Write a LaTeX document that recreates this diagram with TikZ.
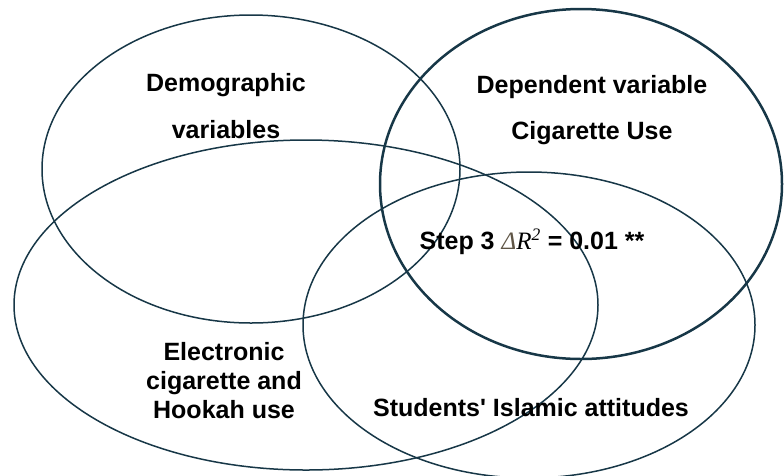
\documentclass[tikz,border=0pt]{standalone}
\usepackage{fontspec}
\setmainfont{Liberation Sans}
\newfontfamily\serifit{Liberation Serif}
\definecolor{ringcol}{RGB}{23,55,71}
\definecolor{deltacol}{RGB}{95,85,70}

\begin{document}
\begin{tikzpicture}[x=1pt,y=-1pt,
    ring/.style={draw=ringcol,line width=1.5pt},
    thickring/.style={draw=ringcol,line width=2.5pt},
    lbl/.style={font=\fontsize{25}{29}\selectfont\bfseries,align=center,inner sep=0pt}]
        \useasboundingbox (0,0) rectangle (784,475);
        \clip (0,0) rectangle (784,475);

        % Draw the four sets
        \draw[ring] (251,169) ellipse [x radius=209,y radius=154];
        \draw[ring] (306,305) ellipse [x radius=292,y radius=165];
        \draw[ring] (529,325) ellipse [x radius=226,y radius=153];
        \draw[thickring] (581,184) ellipse [x radius=201,y radius=175];

        % Set labels
        \node[lbl] (demo) at (226,85) {Demographic};
        \node[lbl] (demovar) at (226,130) {variables};
        \node[lbl] (dep) at (592,87) {Dependent variable};
        \node[lbl] (cig) at (592,133) {Cigarette Use};
        \node[lbl] (ecig) at (224,381) {Electronic\\cigarette and\\Hookah use};
        \node[lbl] (islam) at (531,408) {Students\textquotesingle{} Islamic attitudes};

        % Overlap of all four
        \node[lbl] (step) at (532,242)
            {Step 3 {\serifit\mdseries\itshape\textcolor{deltacol}{Δ}R\textsuperscript{2}} = 0.01 **};
    \end{tikzpicture}
\end{document}
